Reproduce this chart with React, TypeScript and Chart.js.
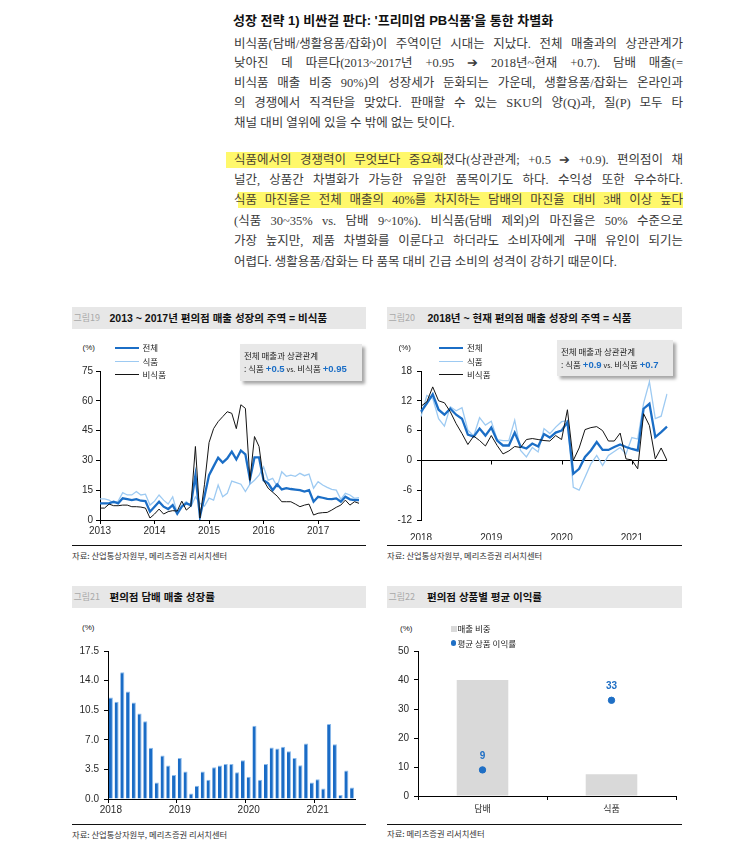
import React, { useEffect, useRef } from "react";
import { Chart, registerables } from "chart.js";

Chart.register(...registerables);

const SANS = "'Liberation Sans', 'Noto Sans CJK KR', sans-serif";
const KR = "'Noto Sans CJK KR', 'Liberation Sans', sans-serif";
const SERIF = "'Liberation Serif', 'Noto Sans CJK KR', serif";

const BLUE = "#1b6ec6";
const LIGHT_BLUE = "#9dcaf2";
const BLACK = "#141414";
const HL = "#fff86b";

function monthLabels(startYear: number, count: number): string[] {
  const out: string[] = [];
  for (let i = 0; i < count; i++) {
    const y = startYear + Math.floor(i / 12);
    const m = (i % 12) + 1;
    out.push(`${y}-${m < 10 ? "0" + m : m}`);
  }
  return out;
}

// ---- 그림19: 2013~2017 (monthly, %)
const months1317 = monthLabels(2013, 58);
const total1317 = [8.4, 8.4, 8.4, 9.2, 8.4, 10.9, 10.5, 10, 10.5, 9.7, 9.5, 4.2, 6.7, 9.2, 6.7, 5.5, 7.5, 3.2, 6.7, 8.4, 7.5, 22.6, 1.7, 12, 22.6, 27, 31.4, 28.9, 31, 34.4, 30.5, 35, 33, 20.5, 31.5, 31.5, 20, 18.5, 15, 18, 15.4, 16, 15.6, 15.3, 15, 14.3, 15, 9.2, 11.7, 11.2, 10.6, 10.5, 10.9, 9.2, 11.7, 10.4, 10, 10];
const food1317 = [10.6, 10.6, 10, 8.4, 9.5, 13.8, 12.6, 12.6, 14.3, 12.6, 13, 7.5, 9.5, 12.6, 10, 8, 11.7, 3.4, 7.5, 9.2, 6.7, 11.7, 8.4, 7, 11, 10, 17.6, 11.7, 13.4, 19.6, 18.8, 18, 14.3, 18, 20, 22.6, 26.8, 20, 21, 16.8, 24.3, 22, 22.6, 22, 23.5, 22.3, 23.1, 16, 19.3, 17.6, 16.4, 15.4, 15, 10.4, 13.4, 12.6, 10.9, 11.2];
const nonFood1317 = [6, 6, 8, 7.2, 7.2, 7.5, 7.5, 6.7, 6.7, 6.5, 6, 1, 3, 5.5, 3, 4.2, 4.7, 4.5, 9.5, 5, 7, 37, 1, 18, 39, 46, 49.5, 52, 54.5, 53.7, 46, 58, 56.2, 20, 42, 37, 20, 16, 14, 12, 9.2, 9.2, 9.2, 8, 6.7, 7.5, 8, 2.5, 3.4, 3.7, 3.8, 5, 6.4, 7.5, 10, 7.5, 9.2, 8.4];

// ---- 그림20: 2018~현재 (monthly, %)
const months1821 = monthLabels(2018, 43);
const total1821 = [9.8, 11.5, 13.3, 10.2, 9.2, 10.4, 9.2, 8.4, 5.2, 4.8, 6.4, 5, 6.6, 4, 3, 3, 5.6, 2.8, 2.4, 3.4, 2.8, 5.3, 4.6, 5.6, 6, 7.7, -2.7, -1.7, 0.7, 2, 3.7, 2.1, 2.1, 2.7, 3.2, 2.7, 2.3, 2, 10.4, 11.4, 4.7, 5.7, 6.8];
const food1821 = [8.8, 13.1, 12.5, 8.4, 6.9, 10.8, 10, 10.6, 6.1, 4.9, 8.6, 7.1, 7.9, 4.2, 4, 4, 8.1, 2, 0.7, 2.6, 1.7, 6.4, 5.4, 6.7, 7.8, 8, -5.4, -6, -3.4, -0.7, 1, -1, 1, 1.8, 2.6, 1.3, 4.6, 4.3, 11.5, 15.8, 8.4, 8.9, 13.4];
const nonFood1821 = [10.9, 11.8, 14.8, 12, 11.6, 9.8, 7.4, 5.4, 3.2, 4.9, 4, 2.9, 5, 3, 1.3, 1.9, 2.8, 2.6, 4.2, 4.4, 4.2, 4, 3.9, 5, 4.2, 10.2, 0, 2.5, 6.2, 6.6, 6.8, 6, 3.9, 3.9, 5.5, 0.3, 0.1, -1.7, 9.4, 7, 0.3, 2.5, 0];

// ---- 그림21: 편의점 담배 매출 성장률 (monthly, %)
const tobaccoGrowth = [12.0, 11.5, 15.0, 12.7, 11.4, 10.1, 9.2, 6.05, 1.95, 5.15, 3.95, 2.85, 4.85, 3.25, 0.66, 1.56, 3.25, 2.27, 3.75, 3.95, 4.14, 4.14, 3.16, 4.57, 2.62, 8.67, 2.27, 4.14, 6.1, 5.98, 6.17, 5.66, 4.84, 3.98, 6.56, 1.95, 2.34, 1.25, 8.87, 6.48, 0.47, 3.36, 1.37];

// ---- 그림22: 편의점 상품별 평균 이익률
const marginCats = ["담배", "식품"];
const salesShare = [40, 7.5];
const avgMargin = [9, 33];

const isJan = (labels: string[], i: number) => !!labels[i] && labels[i].endsWith("-01");
const TRANSPARENT = "rgba(0,0,0,0)";
const TICK_COLOR = "#2a2a2a";

function ChartCanvas({ left, top, width, height, build }: { left: number; top: number; width: number; height: number; build: () => any }) {
  const ref = useRef<HTMLCanvasElement | null>(null);
  useEffect(() => {
    if (!ref.current) return;
    const chart = new Chart(ref.current, build());
    return () => chart.destroy();
  }, []);
  return (
    <div style={{ position: "absolute", left, top, width, height }}>
      <canvas ref={ref} style={{ display: "block" }} />
    </div>
  );
}

const baseOptions = {
  animation: false,
  responsive: true,
  maintainAspectRatio: false,
  events: [],
  plugins: { legend: { display: false }, tooltip: { enabled: false } },
};

function buildChart19() {
  return {
    type: "line",
    data: {
      labels: months1317,
      datasets: [
        { label: "비식품", data: nonFood1317, borderColor: BLACK, borderWidth: 1, pointRadius: 0, tension: 0 },
        { label: "전체", data: total1317, borderColor: BLUE, borderWidth: 2.3, pointRadius: 0, tension: 0 },
        { label: "식품", data: food1317, borderColor: LIGHT_BLUE, borderWidth: 1.3, pointRadius: 0, tension: 0 },
      ],
    },
    options: {
      ...baseOptions,
      layout: { padding: { top: 11, right: 6, left: 0, bottom: 0 } },
      scales: {
        x: {
          type: "category",
          offset: false,
          border: { display: true, color: "#000", width: 1 },
          grid: {
            display: true,
            drawOnChartArea: false,
            tickLength: 4,
            color: (c: any) => (isJan(months1317, c.index) ? "#000" : TRANSPARENT),
            tickColor: (c: any) => (isJan(months1317, c.index) ? "#000" : TRANSPARENT),
          },
          ticks: {
            autoSkip: false,
            maxRotation: 0,
            minRotation: 0,
            padding: 1,
            color: TICK_COLOR,
            font: { family: SANS, size: 10 },
            callback: (_v: any, i: number) => (isJan(months1317, i) ? months1317[i].slice(0, 4) : ""),
          },
          afterFit: (s: any) => {
            s.height = 20;
          },
        },
        y: {
          min: 0,
          max: 75,
          border: { display: true, color: "#000", width: 1 },
          grid: { drawOnChartArea: false, tickLength: 4, color: "#000" },
          ticks: { stepSize: 15, padding: 3, color: TICK_COLOR, font: { family: SANS, size: 10 } },
          afterFit: (s: any) => {
            s.width = 40;
          },
        },
      },
    },
  };
}

const zeroTickPlugin = {
  id: "zeroTicks",
  afterDraw(chart: any) {
    const xs = chart.scales.x;
    const ys = chart.scales.y;
    const y0 = Math.round(ys.getPixelForValue(0)) + 0.5;
    const ctx = chart.ctx;
    ctx.save();
    ctx.strokeStyle = "#000";
    ctx.lineWidth = 1;
    months1821.forEach((_m, i) => {
      if (isJan(months1821, i) && i > 0) {
        const px = Math.round(xs.getPixelForValue(i)) + 0.5;
        ctx.beginPath();
        ctx.moveTo(px, y0);
        ctx.lineTo(px, y0 + 4);
        ctx.stroke();
      }
    });
    ctx.restore();
  },
};

function buildChart20() {
  return {
    type: "line",
    data: {
      labels: months1821,
      datasets: [
        { label: "비식품", data: nonFood1821, borderColor: BLACK, borderWidth: 1, pointRadius: 0, tension: 0 },
        { label: "전체", data: total1821, borderColor: BLUE, borderWidth: 2.3, pointRadius: 0, tension: 0 },
        { label: "식품", data: food1821, borderColor: LIGHT_BLUE, borderWidth: 1.3, pointRadius: 0, tension: 0 },
      ],
    },
    options: {
      ...baseOptions,
      layout: { padding: { top: 11, right: 15, left: 0, bottom: 0 } },
      scales: {
        x: {
          type: "category",
          offset: false,
          border: { display: false },
          grid: { display: false },
          ticks: {
            autoSkip: false,
            maxRotation: 0,
            minRotation: 0,
            padding: 4,
            color: TICK_COLOR,
            font: { family: SANS, size: 10 },
            callback: (_v: any, i: number) => (isJan(months1821, i) ? months1821[i].slice(0, 4) : ""),
          },
          afterFit: (s: any) => {
            s.height = 20;
          },
        },
        y: {
          min: -12,
          max: 18,
          border: { display: true, color: "#000", width: 1 },
          grid: {
            drawOnChartArea: true,
            tickLength: 4,
            color: (c: any) => (c.tick && c.tick.value === 0 ? "#000" : TRANSPARENT),
            tickColor: "#000",
          },
          ticks: { stepSize: 6, padding: 5, color: TICK_COLOR, font: { family: SANS, size: 10 } },
          afterFit: (s: any) => {
            s.width = 41;
          },
        },
      },
    },
    plugins: [zeroTickPlugin],
  };
}

function buildChart21() {
  return {
    type: "bar",
    data: {
      labels: months1821,
      datasets: [
        {
          label: "담배",
          data: tobaccoGrowth,
          backgroundColor: "#1a6cc6",
          borderColor: "#8cbbec",
          borderWidth: { top: 1, right: 1, bottom: 0, left: 0 },
          barPercentage: 0.7,
          categoryPercentage: 1,
        },
      ],
    },
    options: {
      ...baseOptions,
      layout: { padding: { top: 11, right: 10, left: 0, bottom: 0 } },
      scales: {
        x: {
          type: "category",
          border: { display: true, color: "#000", width: 1 },
          grid: {
            display: true,
            drawOnChartArea: false,
            offset: true,
            tickLength: 4,
            color: (c: any) => (isJan(months1821, c.index) ? "#000" : TRANSPARENT),
            tickColor: (c: any) => (isJan(months1821, c.index) ? "#000" : TRANSPARENT),
          },
          ticks: {
            autoSkip: false,
            maxRotation: 0,
            minRotation: 0,
            padding: 1,
            color: TICK_COLOR,
            font: { family: SANS, size: 10 },
            callback: (_v: any, i: number) => (isJan(months1821, i) ? months1821[i].slice(0, 4) : ""),
          },
          afterFit: (s: any) => {
            s.height = 21;
          },
        },
        y: {
          min: 0,
          max: 17.5,
          border: { display: true, color: "#000", width: 1 },
          grid: { drawOnChartArea: false, tickLength: 4, color: "#000" },
          ticks: {
            stepSize: 3.5,
            padding: 5,
            color: TICK_COLOR,
            font: { family: SANS, size: 10 },
            callback: (v: any) => Number(v).toFixed(1),
          },
          afterFit: (s: any) => {
            s.width = 48;
          },
        },
      },
    },
  };
}

const pointLabelPlugin = {
  id: "pointLabels",
  afterDatasetsDraw(chart: any) {
    const meta = chart.getDatasetMeta(0);
    const ctx = chart.ctx;
    ctx.save();
    ctx.fillStyle = "#1f6fc5";
    ctx.font = `bold 10px ${SANS}`;
    ctx.textAlign = "center";
    ctx.textBaseline = "middle";
    meta.data.forEach((pt: any, i: number) => {
      ctx.fillText(String(avgMargin[i]), pt.x, pt.y - 14);
    });
    ctx.restore();
  },
};

function buildChart22() {
  return {
    type: "bar",
    data: {
      labels: marginCats,
      datasets: [
        {
          type: "line",
          label: "평균 상품 이익률",
          data: avgMargin,
          showLine: false,
          pointRadius: 3.2,
          pointBackgroundColor: "#1f6fc5",
          pointBorderColor: "#1f6fc5",
          borderColor: "#1f6fc5",
          backgroundColor: "#1f6fc5",
        },
        {
          type: "bar",
          label: "매출 비중",
          data: salesShare,
          backgroundColor: "#d9d9d9",
          barPercentage: 0.4,
          categoryPercentage: 1,
        },
      ],
    },
    options: {
      ...baseOptions,
      layout: { padding: { top: 11, right: 6, left: 0, bottom: 0 } },
      scales: {
        x: {
          type: "category",
          border: { display: true, color: "#000", width: 1 },
          grid: { display: true, drawOnChartArea: false, offset: true, tickLength: 4, color: "#000" },
          ticks: { padding: 3, color: TICK_COLOR, font: { family: KR, size: 9 } },
          afterFit: (s: any) => {
            s.height = 24;
          },
        },
        y: {
          min: 0,
          max: 50,
          border: { display: true, color: "#000", width: 1 },
          grid: { drawOnChartArea: false, tickLength: 4, color: "#000" },
          ticks: { stepSize: 10, padding: 5, color: TICK_COLOR, font: { family: SANS, size: 10 } },
          afterFit: (s: any) => {
            s.width = 38;
          },
        },
      },
    },
    plugins: [pointLabelPlugin],
  };
}

// ---------- HTML helpers ----------
function Txt({ x, y, size, children, bold = false, color = "#222", family = KR, style = {} }: any) {
  const lh = Math.round(size * 1.3);
  return (
    <div
      style={{
        position: "absolute",
        left: x,
        top: y - lh / 2,
        fontSize: size,
        lineHeight: lh + "px",
        fontFamily: family,
        fontWeight: bold ? 700 : 400,
        color,
        whiteSpace: "nowrap",
        ...style,
      }}
    >
      {children}
    </div>
  );
}

function TitleBar({ x, y, w, num, title, titleX }: any) {
  return (
    <div style={{ position: "absolute", left: x, top: y, width: w, height: 22, background: "#e7e7e7" }}>
      <Txt x={2} y={11} size={9} color="#a9a9a9">
        {num}
      </Txt>
      <Txt x={titleX - x} y={11} size={10.5} bold color="#111" family={SANS}>
        {title}
      </Txt>
    </div>
  );
}

function Source({ x, y, w, text, ty }: any) {
  return (
    <>
      <div style={{ position: "absolute", left: x, top: y, width: w, height: 1.3, background: "#111" }} />
      <Txt x={x + 0.5} y={ty} size={8.3} color="#333">
        {text}
      </Txt>
    </>
  );
}

function LegendRow({ x1, x2, y, color, lw, label }: any) {
  return (
    <>
      <div style={{ position: "absolute", left: x1, top: y - lw / 2, width: x2 - x1, height: lw, background: color }} />
      <Txt x={x2 + 4} y={y} size={8.5} color="#222">
        {label}
      </Txt>
    </>
  );
}

function NoteBox({ x, y, w, h, a, b }: any) {
  return (
    <div
      style={{
        position: "absolute",
        left: x,
        top: y,
        width: w,
        height: h,
        background: "#e8e8e8",
        boxShadow: "3px 3px 3px rgba(0,0,0,0.35)",
      }}
    >
      <Txt x={4} y={11} size={8.5} color="#222">
        전체 매출과 상관관계
      </Txt>
      <Txt x={4} y={24} size={8.5} color="#222">
        : 식품 <span style={{ color: BLUE, fontWeight: 700, fontFamily: SANS, fontSize: 9.5 }}>+{a}</span>{" "}
        <span style={{ fontSize: 7 }}>vs.</span> 비식품{" "}
        <span style={{ color: BLUE, fontWeight: 700, fontFamily: SANS, fontSize: 9.5 }}>+{b}</span>
      </Txt>
    </div>
  );
}

function BodyLine({ y, children, justify = true }: any) {
  return (
    <div
      style={{
        position: "absolute",
        left: 234,
        top: y - 10.5,
        width: 449,
        height: 20,
        fontSize: 12.5,
        lineHeight: "20px",
        fontFamily: SERIF,
        fontWeight: 400,
        color: "#3a3a3a",
        textAlign: justify ? "justify" : "left",
        textAlignLast: justify ? "justify" : "left",
      }}
    >
      {children}
    </div>
  );
}

const hl: React.CSSProperties = { background: HL, padding: "1px 0", color: "#4a4232" };

export default function App() {
  return (
    <div
      style={{
        position: "absolute",
        left: 0,
        top: 0,
        width: 753,
        height: 846,
        background: "#fff",
        overflow: "hidden",
        fontFamily: KR,
      }}
    >
      {/* heading */}
      <Txt x={233} y={20} size={13} bold color="#111" family={SANS}>
        성장 전략 1) 비싼걸 판다: '프리미엄 PB식품'을 통한 차별화
      </Txt>

      {/* paragraph 1 */}
      <BodyLine y={44}>비식품(담배/생활용품/잡화)이 주역이던 시대는 지났다. 전체 매출과의 상관관계가</BodyLine>
      <BodyLine y={63.8}>낮아진 데 따른다(2013~2017년 +0.95 ➔ 2018년~현재 +0.7). 담배 매출(=</BodyLine>
      <BodyLine y={83.6}>비식품 매출 비중 90%)의 성장세가 둔화되는 가운데, 생활용품/잡화는 온라인과</BodyLine>
      <BodyLine y={103.4}>의 경쟁에서 직격탄을 맞았다. 판매할 수 있는 SKU의 양(Q)과, 질(P) 모두 타</BodyLine>
      <BodyLine y={123.2} justify={false}>
        채널 대비 열위에 있을 수 밖에 없는 탓이다.
      </BodyLine>

      {/* paragraph 2 */}
      <BodyLine y={160}>
        <span style={{ ...hl, marginLeft: -8, paddingLeft: 8 }}>식품에서의 경쟁력이 무엇보다 중요해</span>졌다(상관관계; +0.5 ➔
        +0.9). 편의점이 채
      </BodyLine>
      <BodyLine y={180.4}>널간, 상품간 차별화가 가능한 유일한 품목이기도 하다. 수익성 또한 우수하다.</BodyLine>
      <BodyLine y={200.8}>
        <span
          style={{
            ...hl,
            background: `linear-gradient(to right, rgba(255,255,255,0) 30%, ${HL} 30%)`,
          }}
        >
          식
        </span>
        <span style={hl}>품 마진율은 전체 매출의 40%를 차지하는 담배의 마진율 대비 3배 이상 높다</span>
      </BodyLine>
      <BodyLine y={221.2}>(식품 30~35% vs. 담배 9~10%). 비식품(담배 제외)의 마진율은 50% 수준으로</BodyLine>
      <BodyLine y={241.6}>가장 높지만, 제품 차별화를 이룬다고 하더라도 소비자에게 구매 유인이 되기는</BodyLine>
      <BodyLine y={262} justify={false}>
        어렵다. 생활용품/잡화는 타 품목 대비 긴급 소비의 성격이 강하기 때문이다.
      </BodyLine>

      {/* ===== 그림19 ===== */}
      <TitleBar x={71.5} y={307} w={294.5} num="그림19" title="2013 ~ 2017년 편의점 매출 성장의 주역 = 비식품" titleX={109.5} />
      <ChartCanvas left={60} top={360} width={305} height={180} build={buildChart19} />
      <Txt x={82.5} y={347.7} size={8} family={SANS} color="#222">
        (%)
      </Txt>
      <LegendRow x1={115} x2={138.5} y={347.7} color={BLUE} lw={2.3} label="전체" />
      <LegendRow x1={115} x2={138.5} y={361.2} color={LIGHT_BLUE} lw={1.3} label="식품" />
      <LegendRow x1={115} x2={138.5} y={374.7} color={BLACK} lw={1} label="비식품" />
      <NoteBox x={240} y={344} w={122} h={37} a="0.5" b="0.95" />
      <Source x={71.5} y={544.5} w={294.5} ty={555.5} text="자료: 산업통상자원부, 메리츠증권 리서치센터" />

      {/* ===== 그림20 ===== */}
      <TitleBar x={386.5} y={307} w={295.5} num="그림20" title="2018년 ~ 현재 편의점 매출 성장의 주역 = 식품" titleX={427.5} />
      <ChartCanvas left={380} top={360} width={302} height={180} build={buildChart20} />
      <Txt x={398.5} y={347.7} size={8} family={SANS} color="#222">
        (%)
      </Txt>
      <LegendRow x1={439} x2={463} y={347.7} color={BLUE} lw={2.3} label="전체" />
      <LegendRow x1={439} x2={463} y={361.2} color={LIGHT_BLUE} lw={1.3} label="식품" />
      <LegendRow x1={439} x2={463} y={374.7} color={BLACK} lw={1} label="비식품" />
      <NoteBox x={557} y={340} w={116} h={36} a="0.9" b="0.7" />
      <Source x={386.5} y={544.5} w={295.5} ty={555.5} text="자료: 산업통상자원부, 메리츠증권 리서치센터" />

      {/* ===== 그림21 ===== */}
      <TitleBar x={71.5} y={586} w={294.5} num="그림21" title="편의점 담배 매출 성장률" titleX={109.5} />
      <ChartCanvas left={60} top={640} width={305} height={180} build={buildChart21} />
      <Txt x={82} y={628.3} size={8} family={SANS} color="#222">
        (%)
      </Txt>
      <Source x={71.5} y={823.5} w={294.5} ty={834} text="자료: 산업통상자원부, 메리츠증권 리서치센터" />

      {/* ===== 그림22 ===== */}
      <TitleBar x={386.5} y={586} w={295.5} num="그림22" title="편의점 상품별 평균 이익률" titleX={427} />
      <ChartCanvas left={380} top={640} width={302} height={180} build={buildChart22} />
      <Txt x={400} y={629.3} size={8} family={SANS} color="#222">
        (%)
      </Txt>
      <div style={{ position: "absolute", left: 451, top: 625.5, width: 6, height: 6, background: "#d9d9d9" }} />
      <Txt x={457.5} y={628.7} size={8.5} color="#222">
        매출 비중
      </Txt>
      <div
        style={{
          position: "absolute",
          left: 450.5,
          top: 640,
          width: 5.5,
          height: 5.5,
          borderRadius: "50%",
          background: "#1f6fc5",
        }}
      />
      <Txt x={457.5} y={643} size={8.5} color="#222">
        평균 상품 이익률
      </Txt>
      <Source x={386.5} y={823.5} w={295.5} ty={833.5} text="자료: 메리츠증권 리서치센터" />
    </div>
  );
}
